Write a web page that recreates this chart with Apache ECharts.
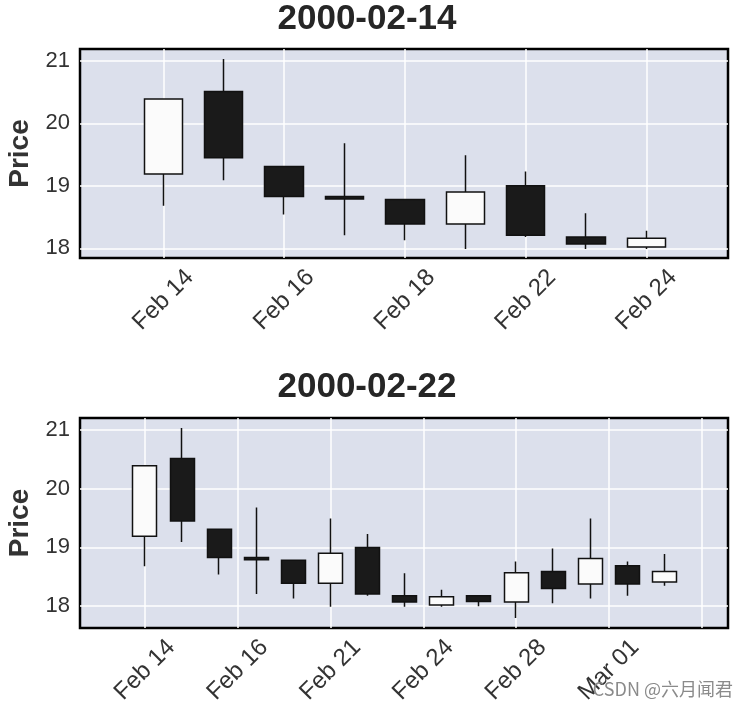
<!DOCTYPE html>
<html>
<head>
<meta charset="utf-8">
<script src="https://cdn.jsdelivr.net/npm/echarts@6/dist/echarts.min.js"></script>
<style>
html,body{margin:0;padding:0;background:#fff;}
#chart{width:748px;height:708px;}
</style>
</head>
<body>
<div id="chart"></div>
<script>
// ---- data ----
const dates = ['2000-02-14','2000-02-15','2000-02-16','2000-02-17','2000-02-18','2000-02-21','2000-02-22','2000-02-23','2000-02-24','2000-02-25','2000-02-28','2000-02-29','2000-03-01','2000-03-02','2000-03-03'];
const openV  = [19.19, 20.51, 19.31, 18.83, 18.78, 18.39, 19.00, 18.18, 18.02, 18.18, 18.07, 18.59, 18.38, 18.69, 18.41];
const closeV = [20.39, 19.45, 18.83, 18.79, 18.39, 18.90, 18.21, 18.07, 18.16, 18.08, 18.57, 18.30, 18.81, 18.38, 18.59];
const lowV   = [18.68, 19.09, 18.54, 18.21, 18.13, 17.99, 18.18, 17.99, 17.99, 18.00, 17.80, 18.05, 18.13, 18.18, 18.35];
const highV  = [20.39, 21.03, 19.31, 19.68, 18.78, 19.49, 19.23, 18.56, 18.28, 18.19, 18.76, 18.98, 19.49, 18.76, 18.89];

const titles = ['2000-02-14', '2000-02-22'];
const topCount = 9;
const bottomCount = 15;

const topTickValues = [0, 2, 4, 6, 8];
const topTickLabels = ['Feb 14', 'Feb 16', 'Feb 18', 'Feb 22', 'Feb 24'];
const bottomTickValues = [0, 2.5, 5, 7.5, 10, 12.5, 15];
const bottomLabelValues = [0, 2.5, 5, 7.5, 10, 12.5];
const bottomTickLabels = ['Feb 14', 'Feb 16', 'Feb 21', 'Feb 24', 'Feb 28', 'Mar 01'];
const yTickValues = [18, 19, 20, 21];

// ---- build ----
function ohlc(n) {
  const out = [];
  for (let i = 0; i < n; i++) out.push([i, openV[i], closeV[i], lowV[i], highV[i]]);
  return out;
}
const FONT = '"Liberation Sans", Arial, sans-serif';
const TXT = '#333333';

function xAxisFor(gridIndex, min, max, tickVals, labelVals, labels) {
  return {
    type: 'value', gridIndex, min, max,
    axisLine: {show: false},
    axisTick: {show: false, customValues: tickVals},
    axisLabel: {
      customValues: labelVals,
      rotate: 45, align: 'center', verticalAlign: 'middle', margin: 42,
      fontSize: 24, color: TXT, fontFamily: FONT,
      formatter: v => { const k = labelVals.findIndex(t => Math.abs(t - v) < 1e-6); return k >= 0 ? labels[k] : ''; }
    },
    splitLine: {show: true, lineStyle: {color: '#ffffff', width: 1.5}}
  };
}
function yAxisFor(gridIndex, min, max) {
  return {
    type: 'value', gridIndex, min, max,
    name: 'Price', nameLocation: 'middle', nameRotate: 90, nameGap: 46,
    nameTextStyle: {fontSize: 28, fontWeight: 'bold', color: TXT, fontFamily: FONT},
    axisLine: {show: false},
    axisTick: {show: false, customValues: yTickValues},
    axisLabel: {customValues: yTickValues, fontSize: 22, color: TXT, fontFamily: FONT, margin: 10},
    splitLine: {show: true, lineStyle: {color: '#ffffff', width: 1.5}}
  };
}
function candle(idx, n, w) {
  return {
    type: 'candlestick', xAxisIndex: idx, yAxisIndex: idx,
    data: ohlc(n), encode: {x: 0, y: [1, 2, 3, 4]},
    barWidth: w,
    itemStyle: {color: '#fbfbfb', color0: '#1a1a1a', borderColor: '#111111', borderColor0: '#111111', borderWidth: 1.5},
    animation: false
  };
}

const chart = echarts.init(document.getElementById('chart'), null, {renderer: 'canvas'});
chart.setOption({
  animation: false,
  backgroundColor: '#ffffff',
  title: [
    {text: titles[0], left: 367, top: 2, textAlign: 'center', padding: 0,
     textStyle: {fontSize: 35, fontWeight: 'bold', color: '#262626', fontFamily: FONT}},
    {text: titles[1], left: 367, top: 370, textAlign: 'center', padding: 0,
     textStyle: {fontSize: 35, fontWeight: 'bold', color: '#262626', fontFamily: FONT}}
  ],
  grid: [
    {left: 80, top: 49, width: 648, height: 209, show: true, backgroundColor: '#dce0ec', borderColor: '#000', borderWidth: 2.5, containLabel: false, outerBoundsMode: 'none'},
    {left: 80, top: 418, width: 648, height: 210, show: true, backgroundColor: '#dce0ec', borderColor: '#000', borderWidth: 2.5, containLabel: false, outerBoundsMode: 'none'}
  ],
  xAxis: [
    xAxisFor(0, -1.38, 9.35, topTickValues, topTickValues, topTickLabels),
    xAxisFor(1, -1.75, 15.71, bottomTickValues, bottomLabelValues, bottomTickLabels)
  ],
  yAxis: [
    yAxisFor(0, 17.845, 21.19),
    yAxisFor(1, 17.63, 21.2)
  ],
  series: [candle(0, topCount, 39), candle(1, bottomCount, 24.5)],
  graphic: [{
    type: 'text', right: 15, top: 680, z: 100,
    style: {text: 'CSDN @六月闻君', fontSize: 18, fill: '#8a8a8a', fontFamily: '"Noto Sans CJK SC", sans-serif'}
  }]
});
</script>
</body>
</html>
